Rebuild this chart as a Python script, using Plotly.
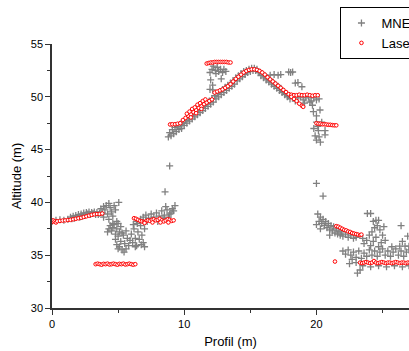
import plotly.graph_objects as go

# ---- Laser series (Profil m, Altitude m) ----
laser_seg1 = [(0.0,38.15),(0.1,38.3),(0.2,38.2),(0.3,38.1),(0.4,38.22),(0.6,38.25),(0.8,38.28),(1.0,38.3),
              (1.2,38.33),(1.4,38.35),(1.6,38.4),(1.8,38.45),(2.0,38.5),(2.2,38.55),(2.4,38.62),(2.6,38.68),
              (2.8,38.75),(3.0,38.82),(3.2,38.87),(3.4,38.9),(3.6,38.9),(3.8,38.95)]
laser_seg2 = [(3.3,34.15),(3.45,34.2),(3.6,34.15),(3.75,34.1),(3.9,34.18),(4.05,34.15),(4.2,34.2),(4.35,34.12),
              (4.5,34.15),(4.65,34.2),(4.8,34.15),(4.95,34.1),(5.1,34.18),(5.25,34.15),(5.4,34.2),(5.55,34.12),
              (5.7,34.15),(5.85,34.2),(6.0,34.15),(6.15,34.1),(6.3,34.15)]
laser_seg3 = [(6.2,38.5),(6.35,38.45),(6.5,38.35),(6.65,38.25),(6.8,38.2),(6.95,38.15),(7.1,38.2),(7.25,38.3),
              (7.4,38.25),(7.55,38.35),(7.7,38.4),(7.85,38.3),(8.0,38.35),(8.15,38.45),(8.3,38.3),(8.45,38.2),
              (8.6,38.3),(8.75,38.4),(8.9,38.35),(9.05,38.25),(9.2,38.3),(7.0,38.05),(7.6,38.1),(8.2,38.1),(8.8,38.1)]
laser_seg4 = [(8.93,47.38),(9.1,47.4),(9.3,47.4),(9.5,47.45),(9.7,47.5),(9.9,47.8),(10.1,48.0),(10.3,48.2),
              (10.5,48.35),(10.7,48.55),(10.9,48.75),(11.1,48.95),(11.3,49.1),(11.5,49.3),(11.7,49.45),(11.9,49.6),
              (12.1,49.75),(10.2,48.4),(10.4,48.6),(10.6,48.85),(10.8,49.0),(11.0,49.25),(11.2,49.4),(11.4,49.6),
              (11.6,49.75),(10.5,48.05),(10.9,48.45),(11.3,48.85),
              (12.3,50.4),(12.5,50.5),(12.7,50.6),(12.9,50.7),(13.1,50.85),(13.3,51.0),(13.5,51.2),(13.7,51.45),
              (13.9,51.7),(14.1,51.9),(14.3,52.1),(14.5,52.3),(14.7,52.45),(14.9,52.55),(15.1,52.6),(15.3,52.6),
              (15.5,52.55),(15.7,52.45),(15.9,52.3),(16.1,52.1),(16.3,51.85),(16.5,51.65),(16.7,51.45),(16.9,51.25),
              (17.1,51.05),(17.3,50.85),(17.5,50.65),(17.7,50.45),(17.9,50.25),
              (18.1,50.2),(18.3,50.15),(18.5,50.15),(18.7,50.2),(18.9,50.15),(19.1,50.15),(19.3,50.2),(19.5,50.15),
              (19.7,50.1),(19.9,50.15),(20.1,50.15),
              (18.1,50.0),(18.3,49.8),(18.5,49.6),(18.7,49.35),(18.9,49.15),(19.0,49.05)]
laser_seg5 = [(11.7,53.15),(11.85,53.2),(12.0,53.25),(12.15,53.25),(12.3,53.3),(12.45,53.3),(12.6,53.3),
              (12.75,53.3),(12.9,53.3),(13.05,53.3),(13.2,53.3),(13.35,53.25),(13.5,53.25)]
laser_seg6 = [(20.0,47.5),(20.15,47.45),(20.3,47.45),(20.45,47.4),(20.6,47.4),(20.75,47.38),(20.9,47.35),
              (21.05,47.35),(21.2,47.32),(21.35,47.3),(21.5,47.3)]
laser_seg7 = [(21.5,37.75),(21.65,37.7),(21.8,37.6),(21.95,37.5),(22.1,37.4),(22.25,37.35),(22.4,37.25),
              (22.55,37.2),(22.7,37.1),(22.85,37.05),(23.0,37.0),(23.15,36.95),(23.3,36.9),(23.4,36.95),(21.4,34.4)]
laser_seg8 = [(23.3,34.3),(23.45,34.25),(23.6,34.3),(23.75,34.35),(23.9,34.3),(24.05,34.25),(24.2,34.3),
              (24.35,34.45),(24.5,34.3),(24.65,34.25),(24.8,34.3),(24.95,34.35),(25.1,34.3),(25.25,34.25),
              (25.4,34.3),(25.55,34.3),(25.7,34.25),(25.85,34.3),(26.0,34.35),(26.15,34.3),(26.3,34.25),
              (26.45,34.3),(26.6,34.3),(26.75,34.25),(26.9,34.3),(27.05,34.3)]

# ---- MNE series ----
mne_left = [(0.0,38.2),(0.3,38.3),(0.6,38.35),(0.9,38.3),(1.2,38.4),(1.4,38.6),(1.6,38.7),(1.8,38.75),(2.0,38.85),
            (2.2,38.9),(2.4,39.0),(2.6,39.05),(2.8,39.1),(3.0,39.05),(3.2,39.1),(3.4,39.05),(3.6,39.0),(1.7,38.5),
            (2.1,38.6),(2.5,38.75),(2.9,38.85),(3.3,38.85),(1.5,38.45),(2.3,38.7),(2.7,38.9),(3.1,38.95),(3.5,38.85)]
mne_dip = [(3.7,39.4),(3.8,39.0),(3.9,38.6),(4.0,39.3),(4.1,39.7),(4.2,38.9),(4.3,38.4),(4.4,39.5),(4.5,39.1),
           (4.6,38.7),(4.7,39.7),(4.8,39.3),(4.9,38.2),(5.05,40.0),(3.9,39.6),(4.3,39.9),(4.6,38.0),
           (4.4,37.8),(4.5,37.3),(4.6,37.6),(4.7,37.9),(4.8,37.0),(4.9,37.5),(5.0,38.0),(5.1,37.2),(5.2,37.7),
           (4.2,37.2),(4.3,37.5),
           (4.8,36.5),(4.9,36.0),(5.0,36.8),(5.1,35.8),(5.2,36.3),(5.3,35.5),(5.4,36.9),(5.5,36.1),(5.6,35.6),
           (5.7,36.6),(5.8,35.9),(5.9,36.4),(5.3,37.1),(5.6,37.3),(5.45,35.3),(5.0,35.6),
           (6.0,37.0),(6.1,36.2),(6.2,37.5),(6.3,36.6),(6.4,35.9),(6.5,37.2),(6.6,36.5),(6.7,37.8),(6.8,36.9),
           (6.9,36.2),(7.0,37.5),(6.15,37.9),(6.45,38.0),(6.75,36.0),(7.0,35.8),(6.3,35.8)]
mne_shelf = [(6.9,38.6),(7.1,38.8),(7.3,38.5),(7.5,38.9),(7.7,38.6),(7.9,39.0),(8.1,38.7),(8.3,39.2),(8.5,38.8),
             (8.7,39.3),(8.9,38.9),(9.1,39.4),(9.3,39.7),(7.2,38.2),(7.6,38.3),(8.0,38.2),(8.4,38.5),(8.8,38.6),
             (9.0,39.0),(8.6,39.6),(8.2,38.4),(8.55,41.0),(8.9,43.45),(9.2,39.2),(6.4,38.2),(6.7,38.4)]
mne_rise = [(8.8,46.2),(8.9,46.6),(9.0,46.3),(9.1,46.9),(9.2,46.5),(9.3,47.1),(9.4,46.7),(9.5,47.2),(9.6,46.9),
            (9.7,47.4),(9.8,47.0),(9.9,47.5),(10.0,47.3),(10.1,47.8),(10.2,47.5),(10.3,48.0),(10.4,47.7),
            (10.5,48.2),(10.6,47.9),(10.7,48.4),(10.8,48.1),(10.9,48.6),(11.0,48.3),(11.1,48.8),(11.2,48.5),
            (11.3,49.0),(11.4,48.7),(11.5,49.2),(11.6,48.9),(11.7,49.4),(11.8,49.1),(11.9,49.6),(12.0,49.3),
            (12.1,49.8),(12.2,49.5),(12.3,50.1),(12.4,49.8),(12.5,50.3),(12.6,50.0),(12.7,50.5),(12.8,50.2),
            (12.9,50.7),(13.0,50.4),(13.1,50.9),(13.2,50.6),(13.3,51.1),(13.4,50.8),(13.5,51.3),(13.6,51.0),
            (13.7,51.5),(13.8,51.2),(13.9,51.8),(14.0,51.5),(14.1,52.0),(14.2,51.7),(14.3,52.2),(14.4,51.9),
            (14.5,52.4),(14.6,52.1),(14.7,52.5),(14.8,52.3),(14.9,52.6),(15.0,52.4),(15.1,52.7),(15.2,52.5),
            (15.3,52.7),(15.4,52.5),(15.5,52.6),(15.6,52.4)]
mne_top = [(11.95,52.3),(12.1,52.6),(12.2,52.9),(12.35,52.5),(12.5,52.8),(12.6,52.4),(12.75,52.6),(12.9,52.3),
           (13.0,52.6),(13.15,52.4),(12.0,51.6),(12.15,51.1),(12.15,50.65),(12.8,51.7),(12.4,52.2),(11.95,50.7)]
mne_fall = [(15.7,52.3),(15.8,52.0),(15.9,52.2),(16.0,51.8),(16.1,52.0),(16.2,51.6),(16.3,51.8),(16.4,51.4),
            (16.5,51.6),(16.6,51.2),(16.7,51.4),(16.8,51.0),(16.9,51.2),(17.0,50.8),(17.1,51.0),(17.2,50.6),
            (17.3,50.8),(17.4,50.4),(17.5,50.5),(17.6,50.2),(17.7,50.3),(17.8,50.0),(17.9,50.1),(18.0,49.8),
            (16.5,52.05),(16.8,52.1),(17.1,52.05),(17.3,52.1),(17.9,52.35),(18.05,52.3),(18.2,52.35),
            (18.4,51.3),(18.6,51.35),(18.9,50.95),
            (18.2,50.0),(18.4,49.6),(18.6,49.9),(18.8,50.0),(19.0,49.7),(19.2,49.9),(19.4,50.0),(19.6,49.6),
            (19.8,49.9),(20.0,49.7),(20.2,49.8),(19.1,49.4),(19.5,49.5),
            (19.7,49.2),(19.77,48.6),(20.0,48.2),(20.27,48.75),(20.4,47.6),(20.15,46.8),(20.65,46.8),
            (20.65,46.4),(20.0,47.6),(20.1,47.2),(19.9,46.3),(20.0,45.9),(20.3,45.7),(20.2,46.2),(19.8,47.0)]
mne_low = [(20.0,41.8),(20.5,40.6),
           (20.1,38.9),(20.3,38.6),(20.2,38.2),(20.4,38.0),(20.5,38.4),(20.6,37.8),(20.7,38.2),(20.8,37.6),
           (20.9,38.0),(21.0,37.4),(21.1,37.8),(21.2,37.3),(21.3,37.7),(21.4,37.1),(21.5,37.5),(21.6,37.0),
           (21.7,37.3),(21.8,36.9),(21.9,37.2),(22.0,36.8),(22.2,37.0),(22.4,36.7),(22.6,36.9),(22.8,36.6),
           (23.0,36.7),(20.0,37.9),(20.3,37.5),(21.0,36.9),
           (23.85,38.95),(24.1,38.95),(24.3,38.2),(24.5,38.3),(24.7,38.3),(24.4,37.6),(24.6,37.8),(24.2,37.2),
           (24.8,37.4),(24.0,36.9),(24.5,36.7),(25.0,36.9),(23.8,36.4),(24.3,36.3),(24.9,36.2),(23.6,36.1),
           (24.1,35.9),(24.7,35.8),(25.2,36.4),(25.1,37.7),(23.5,36.6),
           (22.0,35.4),(22.2,35.1),(22.4,35.5),(22.6,35.0),(22.8,35.3),(23.0,34.8),(23.2,35.4),(23.4,34.7),
           (23.1,33.3),(23.0,34.3),(22.7,34.6),(23.6,35.2),(23.8,34.9),(24.0,35.5),(24.2,35.0),(24.4,35.4),
           (24.6,34.9),(24.8,35.3),(25.0,35.6),(25.2,35.0),(25.4,35.4),(25.6,34.9),(25.8,35.3),(26.0,35.6),
           (26.2,35.0),(26.4,35.4),(26.6,34.9),(26.8,35.3),(27.0,35.5),(23.5,34.0),(24.1,33.9),(24.7,34.0),
           (25.3,33.9),(25.9,34.0),(26.5,33.9),(27.0,34.0),(26.3,35.85),(26.7,35.85),(27.0,35.85),(26.4,37.8),
           (26.5,36.3),(26.9,36.8),(25.7,35.8),(22.5,34.2),(23.3,33.6)]

x_ticks = [0, 10, 20]
y_ticks = [30, 35, 40, 45, 50, 55]

mne = mne_left + mne_dip + mne_shelf + mne_rise + mne_top + mne_fall + mne_low
laser = laser_seg1 + laser_seg2 + laser_seg3 + laser_seg4 + laser_seg5 + laser_seg6 + laser_seg7 + laser_seg8

FONT = "Arial, Liberation Sans, sans-serif"

fig = go.Figure()
fig.add_trace(go.Scatter(
    x=[p[0] for p in mne], y=[p[1] for p in mne], mode="markers", name="MNE",
    marker=dict(symbol="cross-thin", size=5, color="#808080",
                line=dict(color="#808080", width=1.3)),
))
fig.add_trace(go.Scatter(
    x=[p[0] for p in laser], y=[p[1] for p in laser], mode="markers", name="Laser",
    marker=dict(symbol="circle", size=3.6, color="white",
                line=dict(color="#ff0000", width=1)),
))

axis_common = dict(
    showline=True, linecolor="#333333", linewidth=1.5, mirror=False,
    showgrid=False, zeroline=False, ticks="outside", ticklen=5, tickwidth=1.2,
    tickcolor="#333333", tickfont=dict(family=FONT, size=11, color="#000000"),
)

fig.update_layout(
    width=409, height=351,
    paper_bgcolor="white", plot_bgcolor="white",
    margin=dict(l=52, r=0, t=44, b=43, autoexpand=False),
    font=dict(family=FONT, color="#000000"),
    xaxis=dict(range=[0, 27], tickvals=x_ticks,
               minor=dict(tickvals=[5, 15, 25], ticks="outside", ticklen=3, tickcolor="#333333"),
               title=dict(text="Profil (m)", font=dict(family=FONT, size=13), standoff=8),
               **axis_common),
    yaxis=dict(range=[30, 55], tickvals=y_ticks,
               minor=dict(tickvals=[32.5, 37.5, 42.5, 47.5, 52.5], ticks="outside", ticklen=3, tickcolor="#333333"),
               title=dict(text="Altitude (m)", font=dict(family=FONT, size=13), standoff=6),
               **axis_common),
    legend=dict(x=0.808, y=1.14, xanchor="left", yanchor="top",
                bgcolor="white", bordercolor="#000000", borderwidth=1,
                font=dict(family=FONT, size=13), tracegroupgap=0),
    showlegend=True,
)

fig.write_html("out.html", config={"displayModeBar": False},
               post_script="document.body.style.margin='0px';")
